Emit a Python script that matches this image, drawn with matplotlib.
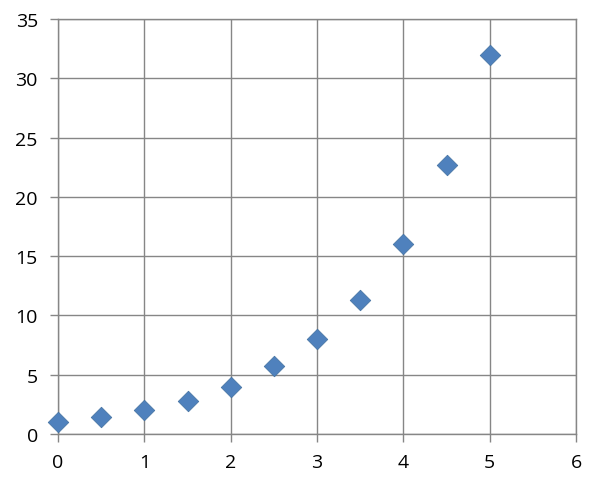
import matplotlib
matplotlib.use("Agg")
import matplotlib.pyplot as plt

x_values = [0, 0.5, 1, 1.5, 2, 2.5, 3, 3.5, 4, 4.5, 5]
y_values = [1.0, 1.45, 2.0, 2.8, 3.95, 5.7, 8.05, 11.3, 16.05, 22.65, 32.0]
x_ticks = [0, 1, 2, 3, 4, 5, 6]
y_ticks = [0, 5, 10, 15, 20, 25, 30, 35]

plt.rcParams['font.family'] = ['Open Sans', 'DejaVu Sans']

fig = plt.figure(figsize=(6.0, 4.89), dpi=100)
ax = fig.add_axes([58/600, 1 - 435/489, (576-58)/600, (435-20)/489])

ax.scatter(x_values, y_values, marker='D', s=110, color='#4F81BD',
           edgecolors='#41709F', linewidths=0.5, zorder=3, clip_on=False)

ax.set_xlim(0, 6)
ax.set_ylim(0, 35)
ax.set_xticks(x_ticks)
ax.set_yticks(y_ticks)
ax.grid(True, color='#868686', linewidth=1.0)
for s in ax.spines.values():
    s.set_color('#868686')
    s.set_linewidth(1.0)
ax.tick_params(axis='both', colors='#868686', length=5.5, width=1.0,
               labelcolor='black', labelsize=14)
ax.tick_params(axis='x', pad=8)
ax.tick_params(axis='y', pad=9)
ax.set_axisbelow(True)

fig.savefig("out.png", dpi=100)
